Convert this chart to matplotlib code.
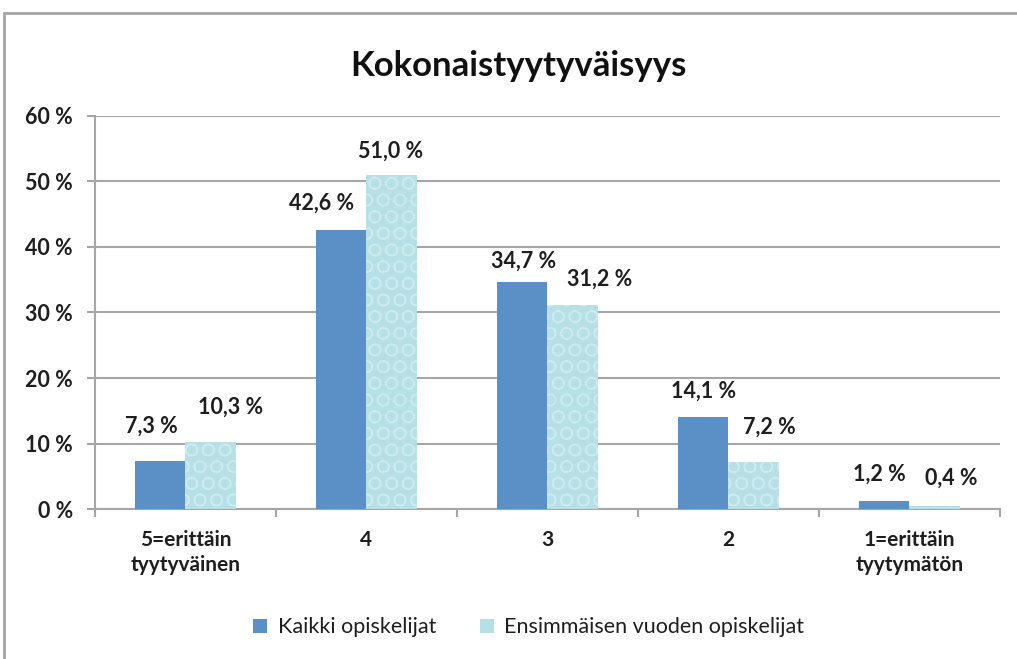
import numpy as np
import matplotlib.pyplot as plt
from matplotlib.patches import Rectangle

plt.rcParams['font.family'] = ['Lato', 'DejaVu Sans']

# ---------- datos ----------
categorias = ['5=erittäin\ntyytyväinen', '4', '3', '2', '1=erittäin\ntyytymätön']
kaikki = [7.3, 42.6, 34.7, 14.1, 1.2]
ensimmaiset = [10.3, 51.0, 31.2, 7.2, 0.4]
series = ['Kaikki opiskelijat', 'Ensimmäisen vuoden opiskelijat']

# desplazamiento de las etiquetas (px): (dx, separación sobre la barra)
off1 = [(-9, 28), (-20, 20), (2, 14), (1, 19), (-5, 20)]
off2 = [(20, 28), (-1, 17), (27, 19), (16, 28), (17, 22)]

col1 = '#5B90C6'
col2 = '#B7E0E6'
txt = '#1E1E1E'

fig = plt.figure(figsize=(10.17, 6.59), dpi=100)
ax = fig.add_axes([0.0934, 0.2276, 0.8896, 0.5964])

x = np.arange(len(categorias))
w = 0.28

b1 = ax.bar(x - w / 2, kaikki, w, color=col1, label=series[0], zorder=3)
b2 = ax.bar(x + w / 2, ensimmaiset, w, color=col2, label=series[1], zorder=3)
# textura tipo "gotas de agua" (suave)
ax.bar(x + w / 2, ensimmaiset, w, facecolor='none', edgecolor='#CDEBEF',
       hatch='O', linewidth=0, zorder=4)

for xs, vals, offs in [(x - w / 2, kaikki, off1), (x + w / 2, ensimmaiset, off2)]:
    for xi, v, (dx, dy) in zip(xs, vals, offs):
        ax.annotate(f'{v:.1f} %'.replace('.', ','), (xi, v), xytext=(dx * 0.72, dy * 0.72),
                    textcoords='offset points', ha='center', va='baseline',
                    fontsize=15.5, fontweight='bold', color=txt)

ax.set_xlim(-0.5, len(categorias) - 0.5)
ax.set_ylim(0, 60)
ax.set_yticks(range(0, 61, 10))
ax.set_yticklabels([f'{t} %' for t in range(0, 61, 10)], fontsize=15.5,
                   fontweight='bold', color=txt)
ax.yaxis.grid(True, color='#A6A6A6', linewidth=1.5, zorder=0)
ax.set_axisbelow(True)

ax.set_xticks(x)
ax.set_xticklabels(categorias, fontsize=15, fontweight='bold', color=txt,
                   linespacing=1.3)
ax.set_xticks(np.arange(-0.5, len(categorias)), minor=True)
ax.tick_params(axis='x', which='major', length=0, pad=15)
ax.tick_params(axis='x', which='minor', length=6, color='#A6A6A6', width=1.5)
ax.tick_params(axis='y', length=6, color='#A6A6A6', width=1.5, pad=10)

for s in ['top', 'right']:
    ax.spines[s].set_visible(False)
for s in ['left', 'bottom']:
    ax.spines[s].set_color('#A6A6A6')
    ax.spines[s].set_linewidth(1.5)

fig.text(0.51, 0.9, 'Kokonaistyytyväisyys', ha='center', va='center',
         fontsize=25, fontweight='bold', color='#111111')

leg = fig.legend(handles=[b1, b2], labels=series, loc='center', bbox_to_anchor=(0.52, 0.048),
                 ncol=2, frameon=False, fontsize=15.5, handlelength=0.65, handleheight=0.65,
                 columnspacing=2.0, handletextpad=0.5)
for t in leg.get_texts():
    t.set_color(txt)

# marco del gráfico
fig.patches.append(Rectangle((4 / 1017, -0.1), 1.2, 1 - 13 / 659 + 0.1, transform=fig.transFigure,
                             facecolor='none', edgecolor='#A6A6A6', linewidth=2))

plt.savefig('out.png', dpi=100)
